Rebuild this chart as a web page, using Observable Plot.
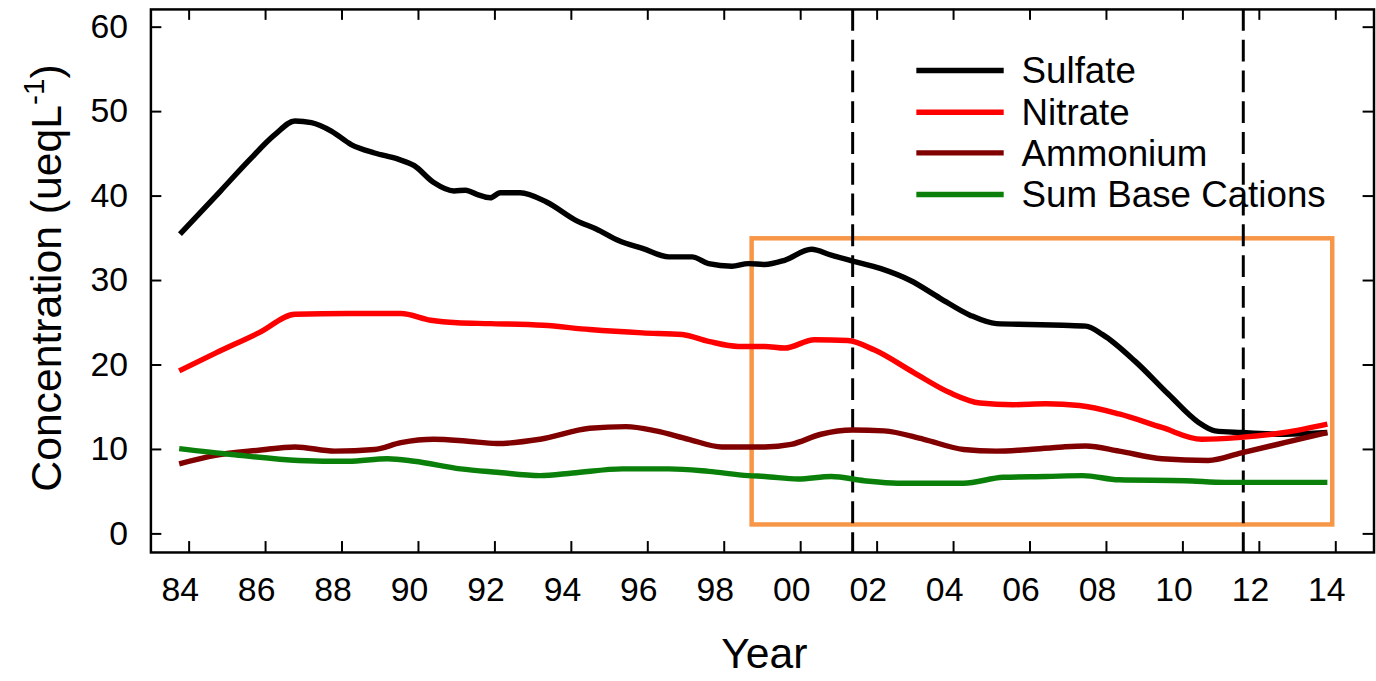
<!DOCTYPE html>
<html>
<head>
<meta charset="utf-8">
<script src="https://cdn.jsdelivr.net/npm/d3@7"></script>
<script src="https://cdn.jsdelivr.net/npm/@observablehq/plot@0.6"></script>
<style>
html, body { margin: 0; padding: 0; background: #fff; overflow: hidden; }
#chart { position: relative; width: 1376px; height: 681px; overflow: hidden; }
</style>
</head>
<body>
<div id="chart"></div>
<script>
// ---- data ----
const seriesNames = ["Sulfate", "Nitrate", "Ammonium", "Sum Base Cations"];
const seriesColors = ["#000000", "#ff0000", "#800000", "#0a800a"];

const sulfateYears = [1983.76, 1984.82, 1985.56, 1986.25, 1986.77, 1987.2, 1987.72, 1988.24, 1988.85, 1989.45, 1989.89, 1990.4, 1990.93, 1991.23, 1991.53, 1991.88, 1992.14, 1992.66, 1993.35, 1994.13, 1994.65, 1995.25, 1995.86, 1996.55, 1997.16, 1997.59, 1998.2, 1998.63, 1999.06, 1999.58, 2000.28, 2000.8, 2001.36, 2002.1, 2002.87, 2003.65, 2004.43, 2005.12, 2005.99, 2006.86, 2007.46, 2007.9, 2008.76, 2009.63, 2010.41, 2010.84, 2011.53, 2012.66, 2013.78];
const sulfateValues = [35.5, 40.6, 44.2, 47.3, 48.9, 48.7, 47.7, 46.1, 45.1, 44.4, 43.6, 41.6, 40.6, 40.7, 40.2, 39.8, 40.4, 40.4, 39.3, 37.1, 36.1, 34.7, 33.8, 32.8, 32.8, 32.0, 31.7, 32.0, 31.9, 32.4, 33.7, 33.0, 32.3, 31.4, 30.0, 27.9, 25.9, 24.9, 24.8, 24.7, 24.6, 23.6, 20.4, 16.5, 13.2, 12.2, 12.0, 11.8, 12.0];

const nitrateYears = [1983.74, 1984.69, 1985.82, 1986.77, 1988.16, 1989.54, 1990.32, 1991.01, 1991.88, 1993.26, 1994.48, 1995.86, 1996.9, 1997.59, 1998.37, 1999.06, 1999.58, 2000.36, 2001.23, 2001.92, 2002.96, 2003.91, 2004.69, 2005.56, 2006.42, 2007.29, 2008.33, 2009.45, 2010.49, 2011.44, 2012.66, 2013.78];
const nitrateValues = [19.3, 21.4, 23.8, 26.0, 26.1, 26.1, 25.3, 25.0, 24.9, 24.7, 24.2, 23.8, 23.6, 22.8, 22.2, 22.2, 22.0, 23.0, 22.9, 21.8, 19.1, 16.7, 15.5, 15.3, 15.4, 15.2, 14.2, 12.6, 11.2, 11.4, 12.0, 13.0];

const ammoniumYears = [1983.74, 1984.69, 1985.82, 1986.77, 1987.81, 1988.85, 1989.54, 1990.4, 1991.23, 1992.05, 1993.18, 1994.48, 1995.43, 1996.21, 1997.07, 1997.94, 1999.06, 1999.75, 2000.53, 2001.36, 2002.18, 2003.22, 2004.26, 2005.12, 2005.99, 2006.86, 2007.46, 2008.33, 2009.45, 2010.66, 2011.53, 2012.66, 2013.78];
const ammoniumValues = [8.3, 9.3, 9.9, 10.3, 9.8, 10.0, 10.8, 11.2, 11.0, 10.7, 11.2, 12.5, 12.7, 12.2, 11.2, 10.3, 10.3, 10.6, 11.8, 12.3, 12.2, 11.2, 10.0, 9.8, 10.0, 10.3, 10.4, 9.8, 8.9, 8.7, 9.6, 10.8, 12.0];

const cationsYears = [1983.74, 1985.12, 1986.86, 1988.16, 1989.19, 1989.89, 1991.1, 1992.05, 1993.18, 1994.04, 1995.34, 1996.55, 1997.59, 1998.63, 1999.06, 1999.93, 2000.8, 2001.66, 2002.53, 2004.26, 2005.3, 2006.42, 2007.38, 2008.33, 2010.06, 2011.1, 2013.78];
const cationsValues = [10.1, 9.4, 8.7, 8.6, 8.9, 8.6, 7.7, 7.3, 6.9, 7.2, 7.7, 7.7, 7.4, 6.9, 6.8, 6.5, 6.8, 6.3, 6.0, 6.0, 6.7, 6.8, 6.9, 6.4, 6.3, 6.1, 6.1];

const xTicks = [1984, 1986, 1988, 1990, 1992, 1994, 1996, 1998, 2000, 2002, 2004, 2006, 2008, 2010, 2012, 2014];
const xTickLabels = ["84", "86", "88", "90", "92", "94", "96", "98", "00", "02", "04", "06", "08", "10", "12", "14"];
const yTicks = [0, 10, 20, 30, 40, 50, 60];
const breakYears = [2001.36, 2011.58];
const focusYears = [1998.73, 2013.92];
const focusValues = [1.06, 34.94];

// ---- build table ----
const seriesYears = [sulfateYears, nitrateYears, ammoniumYears, cationsYears];
const seriesValues = [sulfateValues, nitrateValues, ammoniumValues, cationsValues];
const rows = [];
seriesNames.forEach((name, i) => {
  seriesYears[i].forEach((yr, j) => rows.push({series: name, year: yr, value: seriesValues[i][j]}));
});
const focusBox = [{x1: focusYears[0], x2: focusYears[1], y1: focusValues[0], y2: focusValues[1]}];

// ---- layout ----
const W = 1386, H = 681;
const mT = 9, mB = 125, mL = 151.5, mR = 2.5;
const plotW = W - mL - mR, plotH = H - mT - mB;
const tickLen = 11;
const font = "'Liberation Sans', Arial, sans-serif";

const chart = Plot.plot({
  width: W, height: H,
  marginTop: mT, marginBottom: mB, marginLeft: mL, marginRight: mR,
  x: {domain: [1983, 2015]},
  y: {domain: [-2.2, 62.1]},
  color: {domain: seriesNames, range: seriesColors},
  style: {fontFamily: font, background: "white", color: "black", fontSize: "34px"},
  marks: [
    Plot.rect(focusBox, {x1: "x1", x2: "x2", y1: "y1", y2: "y2", fill: "none", stroke: "#f79646", strokeWidth: 4.5}),
    Plot.ruleX(breakYears, {x: d => d, stroke: "black", strokeWidth: 3, strokeDasharray: "22,9"}),
    Plot.line(rows, {x: "year", y: "value", z: "series", stroke: "series", strokeWidth: 5.5, curve: "monotone-x", strokeLinejoin: "round", strokeLinecap: "butt"}),
    Plot.ruleX(xTicks, {x: d => d, insetTop: plotH - tickLen, stroke: "black", strokeWidth: 2}),
    Plot.ruleX(xTicks, {x: d => d, insetBottom: plotH - tickLen, stroke: "black", strokeWidth: 2}),
    Plot.ruleY(yTicks, {y: d => d, insetRight: plotW - tickLen, stroke: "black", strokeWidth: 2}),
    Plot.ruleY(yTicks, {y: d => d, insetLeft: plotW - tickLen, stroke: "black", strokeWidth: 2}),
    Plot.frame({stroke: "black", strokeWidth: 2.5}),
    Plot.axisX(xTicks, {tickSize: 0, tickPadding: 25, dx: -9, fontSize: 34, label: null,
      tickFormat: d => xTickLabels[xTicks.indexOf(d)]}),
    Plot.axisY(yTicks, {tickSize: 0, tickPadding: 23, fontSize: 34, label: null})
  ]
});

document.getElementById("chart").appendChild(chart);

// ---- titles & legend ----
const svg = d3.select(chart);
const yTitle = svg.append("text")
  .attr("transform", "translate(61,280) rotate(-90)")
  .attr("text-anchor", "middle")
  .attr("font-family", font)
  .attr("font-size", 43)
  .attr("fill", "black");
yTitle.append("tspan").text("Concentration (ueqL");
yTitle.append("tspan").attr("dy", -17).attr("font-size", 30).text("-1");
yTitle.append("tspan").attr("dy", 17).text(")");

svg.append("text")
  .attr("x", 770).attr("y", 673)
  .attr("text-anchor", "middle")
  .attr("font-family", font)
  .attr("font-size", 43)
  .attr("fill", "black")
  .text("Year");

const legendY = [71, 113, 154, 196];
const legend = svg.append("g").attr("text-anchor", "start");
seriesNames.forEach((name, i) => {
  legend.append("line")
    .attr("x1", 923).attr("x2", 1011)
    .attr("y1", legendY[i]).attr("y2", legendY[i])
    .attr("stroke", seriesColors[i]).attr("stroke-width", 5.5);
  legend.append("text")
    .attr("x", 1029).attr("y", legendY[i]).attr("dy", "0.35em")
    .attr("text-anchor", "start")
    .attr("font-family", font).attr("font-size", 37).attr("fill", "black")
    .text(name);
});
</script>
</body>
</html>
